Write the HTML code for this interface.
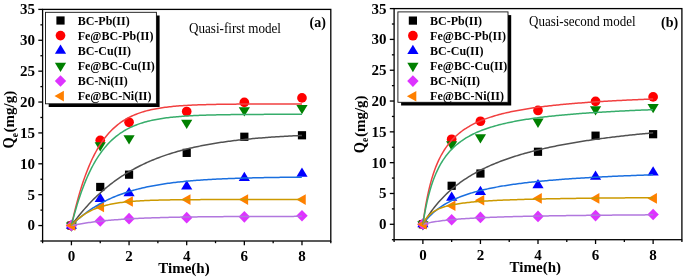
<!DOCTYPE html>
<html><head><meta charset="utf-8"><style>
html,body{margin:0;padding:0;background:#fff;overflow:hidden;}
svg{display:block;filter:blur(0.35px);}
</style></head><body>
<svg width="685" height="279" viewBox="0 0 685 279">
<rect width="685" height="279" fill="#fff"/>
<rect x="67.32" y="221.46" width="8.2" height="8.2" fill="#000000"/>
<rect x="96.14" y="182.86" width="8.2" height="8.2" fill="#000000"/>
<rect x="124.96" y="170.57" width="8.2" height="8.2" fill="#000000"/>
<rect x="182.60" y="148.77" width="8.2" height="8.2" fill="#000000"/>
<rect x="240.24" y="132.65" width="8.2" height="8.2" fill="#000000"/>
<rect x="297.88" y="131.17" width="8.2" height="8.2" fill="#000000"/>
<circle cx="71.42" cy="225.56" r="4.85" fill="#FF0000"/>
<circle cx="100.24" cy="140.33" r="4.85" fill="#FF0000"/>
<circle cx="129.06" cy="122.30" r="4.85" fill="#FF0000"/>
<circle cx="186.70" cy="111.49" r="4.85" fill="#FF0000"/>
<circle cx="244.34" cy="102.35" r="4.85" fill="#FF0000"/>
<circle cx="301.98" cy="97.90" r="4.85" fill="#FF0000"/>
<polygon points="65.82,228.63 77.02,228.63 71.42,219.43" fill="#0000FF"/>
<polygon points="94.64,201.95 105.84,201.95 100.24,192.75" fill="#0000FF"/>
<polygon points="123.46,196.26 134.66,196.26 129.06,187.06" fill="#0000FF"/>
<polygon points="181.10,189.41 192.30,189.41 186.70,180.21" fill="#0000FF"/>
<polygon points="238.74,180.95 249.94,180.95 244.34,171.75" fill="#0000FF"/>
<polygon points="296.38,176.69 307.58,176.69 301.98,167.49" fill="#0000FF"/>
<polygon points="65.82,222.46 77.02,222.46 71.42,231.76" fill="#008000"/>
<polygon points="94.64,142.23 105.84,142.23 100.24,151.53" fill="#008000"/>
<polygon points="123.46,135.25 134.66,135.25 129.06,144.55" fill="#008000"/>
<polygon points="181.10,119.63 192.30,119.63 186.70,128.93" fill="#008000"/>
<polygon points="238.74,107.28 249.94,107.28 244.34,116.58" fill="#008000"/>
<polygon points="296.38,105.05 307.58,105.05 301.98,114.35" fill="#008000"/>
<polygon points="71.42,219.76 77.12,225.56 71.42,231.36 65.72,225.56" fill="#DD33FF"/>
<polygon points="100.24,215.25 105.94,221.05 100.24,226.85 94.54,221.05" fill="#DD33FF"/>
<polygon points="129.06,212.84 134.76,218.64 129.06,224.44 123.36,218.64" fill="#DD33FF"/>
<polygon points="186.70,211.85 192.40,217.65 186.70,223.45 181.00,217.65" fill="#DD33FF"/>
<polygon points="244.34,211.05 250.04,216.85 244.34,222.65 238.64,216.85" fill="#DD33FF"/>
<polygon points="301.98,209.88 307.68,215.68 301.98,221.48 296.28,215.68" fill="#DD33FF"/>
<polygon points="65.82,225.56 75.22,220.26 75.22,230.86" fill="#FF8000"/>
<polygon points="94.64,207.03 104.04,201.73 104.04,212.33" fill="#FF8000"/>
<polygon points="123.46,201.47 132.86,196.17 132.86,206.77" fill="#FF8000"/>
<polygon points="181.10,199.62 190.50,194.32 190.50,204.92" fill="#FF8000"/>
<polygon points="238.74,199.62 248.14,194.32 248.14,204.92" fill="#FF8000"/>
<polygon points="296.38,199.62 305.78,194.32 305.78,204.92" fill="#FF8000"/>
<path d="M71.42,225.56 L72.86,223.57 L74.30,221.63 L75.74,219.73 L77.18,217.86 L78.62,216.04 L80.07,214.26 L81.51,212.51 L82.95,210.80 L84.39,209.13 L85.83,207.49 L87.27,205.89 L88.71,204.33 L90.15,202.79 L91.59,201.29 L93.03,199.82 L94.48,198.38 L95.92,196.98 L97.36,195.60 L98.80,194.25 L100.24,192.94 L101.68,191.64 L103.12,190.38 L104.56,189.15 L106.00,187.94 L107.44,186.75 L108.89,185.59 L110.33,184.46 L111.77,183.35 L113.21,182.26 L114.65,181.20 L116.09,180.16 L117.53,179.14 L118.97,178.15 L120.41,177.17 L121.85,176.22 L123.30,175.29 L124.74,174.37 L126.18,173.48 L127.62,172.60 L129.06,171.75 L130.50,170.91 L131.94,170.09 L133.38,169.29 L134.82,168.50 L136.26,167.73 L137.71,166.98 L139.15,166.24 L140.59,165.52 L142.03,164.82 L143.47,164.13 L144.91,163.45 L146.35,162.79 L147.79,162.14 L149.23,161.51 L150.68,160.89 L152.12,160.28 L153.56,159.69 L155.00,159.11 L156.44,158.54 L157.88,157.99 L159.32,157.44 L160.76,156.91 L162.20,156.39 L163.64,155.88 L165.08,155.38 L166.53,154.89 L167.97,154.41 L169.41,153.94 L170.85,153.48 L172.29,153.04 L173.73,152.60 L175.17,152.17 L176.61,151.75 L178.05,151.34 L179.50,150.93 L180.94,150.54 L182.38,150.16 L183.82,149.78 L185.26,149.41 L186.70,149.05 L188.14,148.69 L189.58,148.35 L191.02,148.01 L192.46,147.68 L193.91,147.35 L195.35,147.04 L196.79,146.73 L198.23,146.42 L199.67,146.12 L201.11,145.83 L202.55,145.55 L203.99,145.27 L205.43,145.00 L206.87,144.73 L208.31,144.47 L209.76,144.21 L211.20,143.96 L212.64,143.72 L214.08,143.48 L215.52,143.24 L216.96,143.01 L218.40,142.79 L219.84,142.57 L221.28,142.35 L222.72,142.14 L224.17,141.94 L225.61,141.73 L227.05,141.54 L228.49,141.34 L229.93,141.16 L231.37,140.97 L232.81,140.79 L234.25,140.61 L235.69,140.44 L237.13,140.27 L238.58,140.10 L240.02,139.94 L241.46,139.78 L242.90,139.63 L244.34,139.47 L245.78,139.32 L247.22,139.18 L248.66,139.03 L250.10,138.90 L251.54,138.76 L252.99,138.62 L254.43,138.49 L255.87,138.37 L257.31,138.24 L258.75,138.12 L260.19,138.00 L261.63,137.88 L263.07,137.76 L264.51,137.65 L265.95,137.54 L267.40,137.43 L268.84,137.33 L270.28,137.22 L271.72,137.12 L273.16,137.02 L274.60,136.93 L276.04,136.83 L277.48,136.74 L278.92,136.65 L280.37,136.56 L281.81,136.47 L283.25,136.39 L284.69,136.30 L286.13,136.22 L287.57,136.14 L289.01,136.07 L290.45,135.99 L291.89,135.91 L293.33,135.84 L294.78,135.77 L296.22,135.70 L297.66,135.63 L299.10,135.56 L300.54,135.50 L301.98,135.43" fill="none" stroke="#515151" stroke-width="1.5"/>
<path d="M71.42,225.56 L72.86,219.06 L74.30,212.91 L75.74,207.08 L77.18,201.57 L78.62,196.35 L80.07,191.41 L81.51,186.74 L82.95,182.31 L84.39,178.12 L85.83,174.16 L87.27,170.41 L88.71,166.85 L90.15,163.49 L91.59,160.31 L93.03,157.29 L94.48,154.44 L95.92,151.74 L97.36,149.18 L98.80,146.76 L100.24,144.47 L101.68,142.31 L103.12,140.25 L104.56,138.31 L106.00,136.47 L107.44,134.73 L108.89,133.08 L110.33,131.53 L111.77,130.05 L113.21,128.65 L114.65,127.33 L116.09,126.08 L117.53,124.89 L118.97,123.77 L120.41,122.71 L121.85,121.70 L123.30,120.75 L124.74,119.85 L126.18,119.00 L127.62,118.19 L129.06,117.43 L130.50,116.70 L131.94,116.02 L133.38,115.37 L134.82,114.76 L136.26,114.18 L137.71,113.63 L139.15,113.11 L140.59,112.62 L142.03,112.15 L143.47,111.71 L144.91,111.29 L146.35,110.90 L147.79,110.52 L149.23,110.17 L150.68,109.83 L152.12,109.52 L153.56,109.22 L155.00,108.93 L156.44,108.66 L157.88,108.41 L159.32,108.17 L160.76,107.94 L162.20,107.72 L163.64,107.52 L165.08,107.32 L166.53,107.14 L167.97,106.97 L169.41,106.80 L170.85,106.65 L172.29,106.50 L173.73,106.36 L175.17,106.23 L176.61,106.10 L178.05,105.99 L179.50,105.87 L180.94,105.77 L182.38,105.67 L183.82,105.57 L185.26,105.48 L186.70,105.40 L188.14,105.32 L189.58,105.24 L191.02,105.17 L192.46,105.10 L193.91,105.04 L195.35,104.98 L196.79,104.92 L198.23,104.86 L199.67,104.81 L201.11,104.76 L202.55,104.72 L203.99,104.67 L205.43,104.63 L206.87,104.59 L208.31,104.55 L209.76,104.52 L211.20,104.48 L212.64,104.45 L214.08,104.42 L215.52,104.40 L216.96,104.37 L218.40,104.34 L219.84,104.32 L221.28,104.30 L222.72,104.27 L224.17,104.25 L225.61,104.23 L227.05,104.22 L228.49,104.20 L229.93,104.18 L231.37,104.17 L232.81,104.15 L234.25,104.14 L235.69,104.13 L237.13,104.11 L238.58,104.10 L240.02,104.09 L241.46,104.08 L242.90,104.07 L244.34,104.06 L245.78,104.05 L247.22,104.04 L248.66,104.03 L250.10,104.03 L251.54,104.02 L252.99,104.01 L254.43,104.01 L255.87,104.00 L257.31,104.00 L258.75,103.99 L260.19,103.98 L261.63,103.98 L263.07,103.97 L264.51,103.97 L265.95,103.97 L267.40,103.96 L268.84,103.96 L270.28,103.96 L271.72,103.95 L273.16,103.95 L274.60,103.95 L276.04,103.94 L277.48,103.94 L278.92,103.94 L280.37,103.94 L281.81,103.93 L283.25,103.93 L284.69,103.93 L286.13,103.93 L287.57,103.93 L289.01,103.92 L290.45,103.92 L291.89,103.92 L293.33,103.92 L294.78,103.92 L296.22,103.92 L297.66,103.91 L299.10,103.91 L300.54,103.91 L301.98,103.91" fill="none" stroke="#F14040" stroke-width="1.5"/>
<path d="M71.42,225.56 L72.86,224.13 L74.30,222.74 L75.74,221.38 L77.18,220.07 L78.62,218.80 L80.07,217.57 L81.51,216.37 L82.95,215.20 L84.39,214.07 L85.83,212.98 L87.27,211.91 L88.71,210.88 L90.15,209.88 L91.59,208.91 L93.03,207.96 L94.48,207.04 L95.92,206.15 L97.36,205.29 L98.80,204.45 L100.24,203.64 L101.68,202.85 L103.12,202.08 L104.56,201.34 L106.00,200.61 L107.44,199.91 L108.89,199.23 L110.33,198.57 L111.77,197.93 L113.21,197.31 L114.65,196.70 L116.09,196.11 L117.53,195.55 L118.97,194.99 L120.41,194.46 L121.85,193.94 L123.30,193.43 L124.74,192.94 L126.18,192.46 L127.62,192.00 L129.06,191.55 L130.50,191.12 L131.94,190.69 L133.38,190.28 L134.82,189.88 L136.26,189.50 L137.71,189.12 L139.15,188.76 L140.59,188.41 L142.03,188.06 L143.47,187.73 L144.91,187.41 L146.35,187.09 L147.79,186.79 L149.23,186.49 L150.68,186.20 L152.12,185.93 L153.56,185.66 L155.00,185.39 L156.44,185.14 L157.88,184.89 L159.32,184.65 L160.76,184.42 L162.20,184.19 L163.64,183.97 L165.08,183.76 L166.53,183.55 L167.97,183.35 L169.41,183.16 L170.85,182.97 L172.29,182.78 L173.73,182.60 L175.17,182.43 L176.61,182.26 L178.05,182.10 L179.50,181.94 L180.94,181.79 L182.38,181.64 L183.82,181.50 L185.26,181.35 L186.70,181.22 L188.14,181.09 L189.58,180.96 L191.02,180.83 L192.46,180.71 L193.91,180.59 L195.35,180.48 L196.79,180.37 L198.23,180.26 L199.67,180.16 L201.11,180.06 L202.55,179.96 L203.99,179.86 L205.43,179.77 L206.87,179.68 L208.31,179.59 L209.76,179.51 L211.20,179.43 L212.64,179.35 L214.08,179.27 L215.52,179.19 L216.96,179.12 L218.40,179.05 L219.84,178.98 L221.28,178.91 L222.72,178.85 L224.17,178.79 L225.61,178.73 L227.05,178.67 L228.49,178.61 L229.93,178.55 L231.37,178.50 L232.81,178.45 L234.25,178.40 L235.69,178.35 L237.13,178.30 L238.58,178.25 L240.02,178.21 L241.46,178.16 L242.90,178.12 L244.34,178.08 L245.78,178.04 L247.22,178.00 L248.66,177.96 L250.10,177.92 L251.54,177.89 L252.99,177.85 L254.43,177.82 L255.87,177.79 L257.31,177.76 L258.75,177.73 L260.19,177.70 L261.63,177.67 L263.07,177.64 L264.51,177.61 L265.95,177.58 L267.40,177.56 L268.84,177.53 L270.28,177.51 L271.72,177.49 L273.16,177.46 L274.60,177.44 L276.04,177.42 L277.48,177.40 L278.92,177.38 L280.37,177.36 L281.81,177.34 L283.25,177.32 L284.69,177.30 L286.13,177.29 L287.57,177.27 L289.01,177.25 L290.45,177.24 L291.89,177.22 L293.33,177.21 L294.78,177.19 L296.22,177.18 L297.66,177.16 L299.10,177.15 L300.54,177.14 L301.98,177.12" fill="none" stroke="#1A6FDF" stroke-width="1.5"/>
<path d="M71.42,225.56 L72.86,219.91 L74.30,214.56 L75.74,209.47 L77.18,204.64 L78.62,200.05 L80.07,195.70 L81.51,191.57 L82.95,187.65 L84.39,183.93 L85.83,180.39 L87.27,177.04 L88.71,173.86 L90.15,170.83 L91.59,167.96 L93.03,165.24 L94.48,162.65 L95.92,160.20 L97.36,157.87 L98.80,155.66 L100.24,153.56 L101.68,151.56 L103.12,149.67 L104.56,147.88 L106.00,146.17 L107.44,144.55 L108.89,143.02 L110.33,141.56 L111.77,140.17 L113.21,138.86 L114.65,137.61 L116.09,136.43 L117.53,135.30 L118.97,134.24 L120.41,133.22 L121.85,132.26 L123.30,131.35 L124.74,130.48 L126.18,129.66 L127.62,128.88 L129.06,128.14 L130.50,127.44 L131.94,126.77 L133.38,126.13 L134.82,125.53 L136.26,124.96 L137.71,124.42 L139.15,123.90 L140.59,123.41 L142.03,122.95 L143.47,122.51 L144.91,122.09 L146.35,121.69 L147.79,121.32 L149.23,120.96 L150.68,120.62 L152.12,120.30 L153.56,119.99 L155.00,119.70 L156.44,119.43 L157.88,119.17 L159.32,118.92 L160.76,118.68 L162.20,118.46 L163.64,118.24 L165.08,118.04 L166.53,117.85 L167.97,117.67 L169.41,117.50 L170.85,117.33 L172.29,117.18 L173.73,117.03 L175.17,116.89 L176.61,116.76 L178.05,116.63 L179.50,116.51 L180.94,116.40 L182.38,116.29 L183.82,116.19 L185.26,116.09 L186.70,116.00 L188.14,115.91 L189.58,115.83 L191.02,115.75 L192.46,115.67 L193.91,115.60 L195.35,115.53 L196.79,115.47 L198.23,115.41 L199.67,115.35 L201.11,115.30 L202.55,115.24 L203.99,115.19 L205.43,115.15 L206.87,115.10 L208.31,115.06 L209.76,115.02 L211.20,114.98 L212.64,114.95 L214.08,114.91 L215.52,114.88 L216.96,114.85 L218.40,114.82 L219.84,114.79 L221.28,114.76 L222.72,114.74 L224.17,114.72 L225.61,114.69 L227.05,114.67 L228.49,114.65 L229.93,114.63 L231.37,114.61 L232.81,114.60 L234.25,114.58 L235.69,114.56 L237.13,114.55 L238.58,114.53 L240.02,114.52 L241.46,114.51 L242.90,114.50 L244.34,114.48 L245.78,114.47 L247.22,114.46 L248.66,114.45 L250.10,114.44 L251.54,114.43 L252.99,114.43 L254.43,114.42 L255.87,114.41 L257.31,114.40 L258.75,114.40 L260.19,114.39 L261.63,114.38 L263.07,114.38 L264.51,114.37 L265.95,114.37 L267.40,114.36 L268.84,114.36 L270.28,114.35 L271.72,114.35 L273.16,114.34 L274.60,114.34 L276.04,114.34 L277.48,114.33 L278.92,114.33 L280.37,114.33 L281.81,114.32 L283.25,114.32 L284.69,114.32 L286.13,114.32 L287.57,114.31 L289.01,114.31 L290.45,114.31 L291.89,114.31 L293.33,114.31 L294.78,114.30 L296.22,114.30 L297.66,114.30 L299.10,114.30 L300.54,114.30 L301.98,114.30" fill="none" stroke="#37AD6B" stroke-width="1.5"/>
<path d="M71.42,225.56 L72.86,225.27 L74.30,224.99 L75.74,224.71 L77.18,224.45 L78.62,224.19 L80.07,223.95 L81.51,223.71 L82.95,223.47 L84.39,223.25 L85.83,223.03 L87.27,222.82 L88.71,222.61 L90.15,222.42 L91.59,222.22 L93.03,222.04 L94.48,221.86 L95.92,221.68 L97.36,221.51 L98.80,221.35 L100.24,221.19 L101.68,221.04 L103.12,220.89 L104.56,220.75 L106.00,220.61 L107.44,220.47 L108.89,220.34 L110.33,220.21 L111.77,220.09 L113.21,219.97 L114.65,219.86 L116.09,219.74 L117.53,219.64 L118.97,219.53 L120.41,219.43 L121.85,219.33 L123.30,219.24 L124.74,219.15 L126.18,219.06 L127.62,218.97 L129.06,218.89 L130.50,218.80 L131.94,218.73 L133.38,218.65 L134.82,218.58 L136.26,218.51 L137.71,218.44 L139.15,218.37 L140.59,218.30 L142.03,218.24 L143.47,218.18 L144.91,218.12 L146.35,218.06 L147.79,218.01 L149.23,217.96 L150.68,217.90 L152.12,217.85 L153.56,217.81 L155.00,217.76 L156.44,217.71 L157.88,217.67 L159.32,217.63 L160.76,217.58 L162.20,217.54 L163.64,217.51 L165.08,217.47 L166.53,217.43 L167.97,217.40 L169.41,217.36 L170.85,217.33 L172.29,217.30 L173.73,217.27 L175.17,217.24 L176.61,217.21 L178.05,217.18 L179.50,217.15 L180.94,217.12 L182.38,217.10 L183.82,217.07 L185.26,217.05 L186.70,217.03 L188.14,217.00 L189.58,216.98 L191.02,216.96 L192.46,216.94 L193.91,216.92 L195.35,216.90 L196.79,216.88 L198.23,216.86 L199.67,216.85 L201.11,216.83 L202.55,216.81 L203.99,216.80 L205.43,216.78 L206.87,216.77 L208.31,216.75 L209.76,216.74 L211.20,216.73 L212.64,216.71 L214.08,216.70 L215.52,216.69 L216.96,216.68 L218.40,216.66 L219.84,216.65 L221.28,216.64 L222.72,216.63 L224.17,216.62 L225.61,216.61 L227.05,216.60 L228.49,216.59 L229.93,216.58 L231.37,216.58 L232.81,216.57 L234.25,216.56 L235.69,216.55 L237.13,216.54 L238.58,216.54 L240.02,216.53 L241.46,216.52 L242.90,216.51 L244.34,216.51 L245.78,216.50 L247.22,216.50 L248.66,216.49 L250.10,216.48 L251.54,216.48 L252.99,216.47 L254.43,216.47 L255.87,216.46 L257.31,216.46 L258.75,216.45 L260.19,216.45 L261.63,216.44 L263.07,216.44 L264.51,216.44 L265.95,216.43 L267.40,216.43 L268.84,216.42 L270.28,216.42 L271.72,216.42 L273.16,216.41 L274.60,216.41 L276.04,216.41 L277.48,216.40 L278.92,216.40 L280.37,216.40 L281.81,216.40 L283.25,216.39 L284.69,216.39 L286.13,216.39 L287.57,216.39 L289.01,216.38 L290.45,216.38 L291.89,216.38 L293.33,216.38 L294.78,216.37 L296.22,216.37 L297.66,216.37 L299.10,216.37 L300.54,216.37 L301.98,216.36" fill="none" stroke="#B177DE" stroke-width="1.5"/>
<path d="M71.42,225.56 L72.86,223.97 L74.30,222.48 L75.74,221.08 L77.18,219.77 L78.62,218.54 L80.07,217.38 L81.51,216.29 L82.95,215.27 L84.39,214.31 L85.83,213.41 L87.27,212.56 L88.71,211.77 L90.15,211.02 L91.59,210.32 L93.03,209.67 L94.48,209.05 L95.92,208.47 L97.36,207.92 L98.80,207.41 L100.24,206.93 L101.68,206.48 L103.12,206.06 L104.56,205.66 L106.00,205.29 L107.44,204.94 L108.89,204.61 L110.33,204.30 L111.77,204.01 L113.21,203.73 L114.65,203.48 L116.09,203.24 L117.53,203.01 L118.97,202.80 L120.41,202.60 L121.85,202.41 L123.30,202.24 L124.74,202.07 L126.18,201.92 L127.62,201.77 L129.06,201.64 L130.50,201.51 L131.94,201.39 L133.38,201.28 L134.82,201.17 L136.26,201.07 L137.71,200.98 L139.15,200.89 L140.59,200.81 L142.03,200.73 L143.47,200.66 L144.91,200.59 L146.35,200.52 L147.79,200.46 L149.23,200.41 L150.68,200.35 L152.12,200.30 L153.56,200.26 L155.00,200.21 L156.44,200.17 L157.88,200.13 L159.32,200.10 L160.76,200.06 L162.20,200.03 L163.64,200.00 L165.08,199.97 L166.53,199.94 L167.97,199.92 L169.41,199.90 L170.85,199.87 L172.29,199.85 L173.73,199.83 L175.17,199.82 L176.61,199.80 L178.05,199.78 L179.50,199.77 L180.94,199.75 L182.38,199.74 L183.82,199.73 L185.26,199.72 L186.70,199.70 L188.14,199.69 L189.58,199.68 L191.02,199.67 L192.46,199.67 L193.91,199.66 L195.35,199.65 L196.79,199.64 L198.23,199.64 L199.67,199.63 L201.11,199.62 L202.55,199.62 L203.99,199.61 L205.43,199.61 L206.87,199.60 L208.31,199.60 L209.76,199.60 L211.20,199.59 L212.64,199.59 L214.08,199.59 L215.52,199.58 L216.96,199.58 L218.40,199.58 L219.84,199.57 L221.28,199.57 L222.72,199.57 L224.17,199.57 L225.61,199.57 L227.05,199.56 L228.49,199.56 L229.93,199.56 L231.37,199.56 L232.81,199.56 L234.25,199.56 L235.69,199.55 L237.13,199.55 L238.58,199.55 L240.02,199.55 L241.46,199.55 L242.90,199.55 L244.34,199.55 L245.78,199.55 L247.22,199.55 L248.66,199.55 L250.10,199.55 L251.54,199.54 L252.99,199.54 L254.43,199.54 L255.87,199.54 L257.31,199.54 L258.75,199.54 L260.19,199.54 L261.63,199.54 L263.07,199.54 L264.51,199.54 L265.95,199.54 L267.40,199.54 L268.84,199.54 L270.28,199.54 L271.72,199.54 L273.16,199.54 L274.60,199.54 L276.04,199.54 L277.48,199.54 L278.92,199.54 L280.37,199.54 L281.81,199.54 L283.25,199.54 L284.69,199.54 L286.13,199.54 L287.57,199.54 L289.01,199.54 L290.45,199.54 L291.89,199.54 L293.33,199.54 L294.78,199.54 L296.22,199.54 L297.66,199.54 L299.10,199.54 L300.54,199.54 L301.98,199.54" fill="none" stroke="#CC9900" stroke-width="1.5"/>
<rect x="42.6" y="9.4" width="288.20" height="231.60" fill="none" stroke="#000" stroke-width="1.3"/>
<line x1="40.40" y1="241.00" x2="42.6" y2="241.00" stroke="#000" stroke-width="1.3"/>
<line x1="38.30" y1="225.56" x2="42.6" y2="225.56" stroke="#000" stroke-width="1.3"/>
<text x="35.00" y="230.46" text-anchor="end" font-family="Liberation Serif" font-weight="bold" font-size="15">0</text>
<line x1="40.40" y1="210.12" x2="42.6" y2="210.12" stroke="#000" stroke-width="1.3"/>
<line x1="38.30" y1="194.68" x2="42.6" y2="194.68" stroke="#000" stroke-width="1.3"/>
<text x="35.00" y="199.58" text-anchor="end" font-family="Liberation Serif" font-weight="bold" font-size="15">5</text>
<line x1="40.40" y1="179.24" x2="42.6" y2="179.24" stroke="#000" stroke-width="1.3"/>
<line x1="38.30" y1="163.80" x2="42.6" y2="163.80" stroke="#000" stroke-width="1.3"/>
<text x="35.00" y="168.70" text-anchor="end" font-family="Liberation Serif" font-weight="bold" font-size="15">10</text>
<line x1="40.40" y1="148.36" x2="42.6" y2="148.36" stroke="#000" stroke-width="1.3"/>
<line x1="38.30" y1="132.92" x2="42.6" y2="132.92" stroke="#000" stroke-width="1.3"/>
<text x="35.00" y="137.82" text-anchor="end" font-family="Liberation Serif" font-weight="bold" font-size="15">15</text>
<line x1="40.40" y1="117.48" x2="42.6" y2="117.48" stroke="#000" stroke-width="1.3"/>
<line x1="38.30" y1="102.04" x2="42.6" y2="102.04" stroke="#000" stroke-width="1.3"/>
<text x="35.00" y="106.94" text-anchor="end" font-family="Liberation Serif" font-weight="bold" font-size="15">20</text>
<line x1="40.40" y1="86.60" x2="42.6" y2="86.60" stroke="#000" stroke-width="1.3"/>
<line x1="38.30" y1="71.16" x2="42.6" y2="71.16" stroke="#000" stroke-width="1.3"/>
<text x="35.00" y="76.06" text-anchor="end" font-family="Liberation Serif" font-weight="bold" font-size="15">25</text>
<line x1="40.40" y1="55.72" x2="42.6" y2="55.72" stroke="#000" stroke-width="1.3"/>
<line x1="38.30" y1="40.28" x2="42.6" y2="40.28" stroke="#000" stroke-width="1.3"/>
<text x="35.00" y="45.18" text-anchor="end" font-family="Liberation Serif" font-weight="bold" font-size="15">30</text>
<line x1="40.40" y1="24.84" x2="42.6" y2="24.84" stroke="#000" stroke-width="1.3"/>
<line x1="38.30" y1="9.40" x2="42.6" y2="9.40" stroke="#000" stroke-width="1.3"/>
<text x="35.00" y="14.30" text-anchor="end" font-family="Liberation Serif" font-weight="bold" font-size="15">35</text>
<line x1="42.60" y1="241.0" x2="42.60" y2="243.20" stroke="#000" stroke-width="1.3"/>
<line x1="71.42" y1="241.0" x2="71.42" y2="245.30" stroke="#000" stroke-width="1.3"/>
<text x="71.42" y="261.20" text-anchor="middle" font-family="Liberation Serif" font-weight="bold" font-size="15">0</text>
<line x1="100.24" y1="241.0" x2="100.24" y2="243.20" stroke="#000" stroke-width="1.3"/>
<line x1="129.06" y1="241.0" x2="129.06" y2="245.30" stroke="#000" stroke-width="1.3"/>
<text x="129.06" y="261.20" text-anchor="middle" font-family="Liberation Serif" font-weight="bold" font-size="15">2</text>
<line x1="157.88" y1="241.0" x2="157.88" y2="243.20" stroke="#000" stroke-width="1.3"/>
<line x1="186.70" y1="241.0" x2="186.70" y2="245.30" stroke="#000" stroke-width="1.3"/>
<text x="186.70" y="261.20" text-anchor="middle" font-family="Liberation Serif" font-weight="bold" font-size="15">4</text>
<line x1="215.52" y1="241.0" x2="215.52" y2="243.20" stroke="#000" stroke-width="1.3"/>
<line x1="244.34" y1="241.0" x2="244.34" y2="245.30" stroke="#000" stroke-width="1.3"/>
<text x="244.34" y="261.20" text-anchor="middle" font-family="Liberation Serif" font-weight="bold" font-size="15">6</text>
<line x1="273.16" y1="241.0" x2="273.16" y2="243.20" stroke="#000" stroke-width="1.3"/>
<line x1="301.98" y1="241.0" x2="301.98" y2="245.30" stroke="#000" stroke-width="1.3"/>
<text x="301.98" y="261.20" text-anchor="middle" font-family="Liberation Serif" font-weight="bold" font-size="15">8</text>
<line x1="330.80" y1="241.0" x2="330.80" y2="243.20" stroke="#000" stroke-width="1.3"/>
<text x="184.0" y="272.8" text-anchor="middle" font-family="Liberation Serif" font-weight="bold" font-size="15">Time(h)</text>
<text transform="translate(14.20,148.50) rotate(-90) scale(0.88,1)" font-family="Liberation Serif" font-weight="bold" font-size="16.4">Q</text>
<text transform="translate(17.60,137.30) rotate(-90)" font-family="Liberation Serif" font-weight="bold" font-size="9.5">e</text>
<text transform="translate(14.00,132.40) rotate(-90)" font-family="Liberation Serif" font-weight="bold" font-size="15">(mg/g)</text>
<rect x="48.70" y="15.50" width="110.9" height="91.5" fill="#000"/>
<rect x="45.5" y="12.3" width="110.9" height="91.5" fill="#fff" stroke="#111" stroke-width="0.9"/>
<rect x="56.40" y="16.40" width="8.2" height="8.2" fill="#000000"/>
<text x="77.70" y="24.70" font-family="Liberation Serif" font-weight="bold" font-size="12">BC-Pb(II)</text>
<circle cx="60.50" cy="35.62" r="4.85" fill="#FF0000"/>
<text x="77.70" y="39.82" font-family="Liberation Serif" font-weight="bold" font-size="12">Fe@BC-Pb(II)</text>
<polygon points="54.90,53.81 66.10,53.81 60.50,44.61" fill="#0000FF"/>
<text x="77.70" y="54.94" font-family="Liberation Serif" font-weight="bold" font-size="12">BC-Cu(II)</text>
<polygon points="54.90,62.76 66.10,62.76 60.50,72.06" fill="#008000"/>
<text x="77.70" y="70.06" font-family="Liberation Serif" font-weight="bold" font-size="12">Fe@BC-Cu(II)</text>
<polygon points="60.50,75.18 66.20,80.98 60.50,86.78 54.80,80.98" fill="#DD33FF"/>
<text x="77.70" y="85.18" font-family="Liberation Serif" font-weight="bold" font-size="12">BC-Ni(II)</text>
<polygon points="54.50,96.10 63.90,90.80 63.90,101.40" fill="#FF8000"/>
<text x="77.70" y="100.30" font-family="Liberation Serif" font-weight="bold" font-size="12">Fe@BC-Ni(II)</text>
<text x="189" y="32.5" font-family="Liberation Serif" font-size="14" textLength="92.0" lengthAdjust="spacingAndGlyphs">Quasi-first model</text>
<text x="309.6" y="26.9" font-family="Liberation Serif" font-weight="bold" font-size="14">(a)</text>
<rect x="418.78" y="220.19" width="8.2" height="8.2" fill="#000000"/>
<rect x="447.56" y="181.68" width="8.2" height="8.2" fill="#000000"/>
<rect x="476.34" y="169.41" width="8.2" height="8.2" fill="#000000"/>
<rect x="533.90" y="147.66" width="8.2" height="8.2" fill="#000000"/>
<rect x="591.46" y="131.57" width="8.2" height="8.2" fill="#000000"/>
<rect x="649.02" y="130.10" width="8.2" height="8.2" fill="#000000"/>
<circle cx="422.88" cy="224.29" r="4.85" fill="#FF0000"/>
<circle cx="451.66" cy="139.25" r="4.85" fill="#FF0000"/>
<circle cx="480.44" cy="121.25" r="4.85" fill="#FF0000"/>
<circle cx="538.00" cy="110.47" r="4.85" fill="#FF0000"/>
<circle cx="595.56" cy="101.35" r="4.85" fill="#FF0000"/>
<circle cx="653.12" cy="96.91" r="4.85" fill="#FF0000"/>
<polygon points="417.28,227.36 428.48,227.36 422.88,218.16" fill="#0000FF"/>
<polygon points="446.06,200.74 457.26,200.74 451.66,191.54" fill="#0000FF"/>
<polygon points="474.84,195.07 486.04,195.07 480.44,185.87" fill="#0000FF"/>
<polygon points="532.40,188.23 543.60,188.23 538.00,179.03" fill="#0000FF"/>
<polygon points="589.96,179.78 601.16,179.78 595.56,170.58" fill="#0000FF"/>
<polygon points="647.52,175.53 658.72,175.53 653.12,166.33" fill="#0000FF"/>
<polygon points="417.28,221.19 428.48,221.19 422.88,230.49" fill="#008000"/>
<polygon points="446.06,141.14 457.26,141.14 451.66,150.44" fill="#008000"/>
<polygon points="474.84,134.18 486.04,134.18 480.44,143.48" fill="#008000"/>
<polygon points="532.40,118.58 543.60,118.58 538.00,127.88" fill="#008000"/>
<polygon points="589.96,106.26 601.16,106.26 595.56,115.56" fill="#008000"/>
<polygon points="647.52,104.04 658.72,104.04 653.12,113.34" fill="#008000"/>
<polygon points="422.88,218.49 428.58,224.29 422.88,230.09 417.18,224.29" fill="#DD33FF"/>
<polygon points="451.66,213.99 457.36,219.79 451.66,225.59 445.96,219.79" fill="#DD33FF"/>
<polygon points="480.44,211.59 486.14,217.39 480.44,223.19 474.74,217.39" fill="#DD33FF"/>
<polygon points="538.00,210.61 543.70,216.41 538.00,222.21 532.30,216.41" fill="#DD33FF"/>
<polygon points="595.56,209.80 601.26,215.60 595.56,221.40 589.86,215.60" fill="#DD33FF"/>
<polygon points="653.12,208.63 658.82,214.43 653.12,220.23 647.42,214.43" fill="#DD33FF"/>
<polygon points="417.28,224.29 426.68,218.99 426.68,229.59" fill="#FF8000"/>
<polygon points="446.06,205.81 455.46,200.51 455.46,211.11" fill="#FF8000"/>
<polygon points="474.84,200.26 484.24,194.96 484.24,205.56" fill="#FF8000"/>
<polygon points="532.40,198.41 541.80,193.11 541.80,203.71" fill="#FF8000"/>
<polygon points="589.96,198.41 599.36,193.11 599.36,203.71" fill="#FF8000"/>
<polygon points="647.52,198.41 656.92,193.11 656.92,203.71" fill="#FF8000"/>
<path d="M422.88,224.29 L424.32,221.86 L425.76,219.53 L427.20,217.29 L428.64,215.13 L430.08,213.06 L431.51,211.06 L432.95,209.14 L434.39,207.28 L435.83,205.49 L437.27,203.76 L438.71,202.09 L440.15,200.48 L441.59,198.92 L443.03,197.41 L444.47,195.95 L445.90,194.53 L447.34,193.16 L448.78,191.82 L450.22,190.53 L451.66,189.28 L453.10,188.06 L454.54,186.88 L455.98,185.73 L457.42,184.62 L458.86,183.53 L460.29,182.47 L461.73,181.45 L463.17,180.44 L464.61,179.47 L466.05,178.52 L467.49,177.59 L468.93,176.69 L470.37,175.81 L471.81,174.95 L473.25,174.11 L474.68,173.29 L476.12,172.49 L477.56,171.71 L479.00,170.95 L480.44,170.21 L481.88,169.48 L483.32,168.77 L484.76,168.07 L486.20,167.39 L487.63,166.72 L489.07,166.07 L490.51,165.43 L491.95,164.80 L493.39,164.19 L494.83,163.59 L496.27,163.00 L497.71,162.43 L499.15,161.86 L500.59,161.31 L502.02,160.77 L503.46,160.24 L504.90,159.71 L506.34,159.20 L507.78,158.70 L509.22,158.20 L510.66,157.72 L512.10,157.24 L513.54,156.78 L514.98,156.32 L516.41,155.87 L517.85,155.43 L519.29,154.99 L520.73,154.56 L522.17,154.14 L523.61,153.73 L525.05,153.33 L526.49,152.93 L527.93,152.53 L529.37,152.15 L530.81,151.77 L532.24,151.39 L533.68,151.03 L535.12,150.66 L536.56,150.31 L538.00,149.96 L539.44,149.61 L540.88,149.27 L542.32,148.94 L543.76,148.61 L545.19,148.28 L546.63,147.96 L548.07,147.65 L549.51,147.34 L550.95,147.03 L552.39,146.73 L553.83,146.43 L555.27,146.14 L556.71,145.85 L558.15,145.57 L559.59,145.29 L561.02,145.01 L562.46,144.74 L563.90,144.47 L565.34,144.20 L566.78,143.94 L568.22,143.68 L569.66,143.43 L571.10,143.18 L572.54,142.93 L573.98,142.68 L575.41,142.44 L576.85,142.20 L578.29,141.97 L579.73,141.73 L581.17,141.51 L582.61,141.28 L584.05,141.05 L585.49,140.83 L586.93,140.61 L588.37,140.40 L589.80,140.19 L591.24,139.98 L592.68,139.77 L594.12,139.56 L595.56,139.36 L597.00,139.16 L598.44,138.96 L599.88,138.76 L601.32,138.57 L602.75,138.38 L604.19,138.19 L605.63,138.00 L607.07,137.82 L608.51,137.63 L609.95,137.45 L611.39,137.28 L612.83,137.10 L614.27,136.92 L615.71,136.75 L617.14,136.58 L618.58,136.41 L620.02,136.24 L621.46,136.08 L622.90,135.91 L624.34,135.75 L625.78,135.59 L627.22,135.43 L628.66,135.28 L630.10,135.12 L631.53,134.97 L632.97,134.82 L634.41,134.66 L635.85,134.52 L637.29,134.37 L638.73,134.22 L640.17,134.08 L641.61,133.93 L643.05,133.79 L644.49,133.65 L645.92,133.51 L647.36,133.38 L648.80,133.24 L650.24,133.10 L651.68,132.97 L653.12,132.84" fill="none" stroke="#515151" stroke-width="1.5"/>
<path d="M422.88,224.29 L424.32,214.01 L425.76,205.19 L427.20,197.54 L428.64,190.83 L430.08,184.91 L431.51,179.65 L432.95,174.93 L434.39,170.68 L435.83,166.84 L437.27,163.34 L438.71,160.15 L440.15,157.22 L441.59,154.52 L443.03,152.03 L444.47,149.73 L445.90,147.59 L447.34,145.59 L448.78,143.73 L450.22,141.99 L451.66,140.35 L453.10,138.82 L454.54,137.37 L455.98,136.01 L457.42,134.72 L458.86,133.50 L460.29,132.35 L461.73,131.25 L463.17,130.21 L464.61,129.22 L466.05,128.28 L467.49,127.38 L468.93,126.52 L470.37,125.70 L471.81,124.92 L473.25,124.17 L474.68,123.45 L476.12,122.76 L477.56,122.09 L479.00,121.46 L480.44,120.84 L481.88,120.25 L483.32,119.68 L484.76,119.14 L486.20,118.61 L487.63,118.10 L489.07,117.61 L490.51,117.13 L491.95,116.67 L493.39,116.23 L494.83,115.80 L496.27,115.38 L497.71,114.98 L499.15,114.59 L500.59,114.21 L502.02,113.84 L503.46,113.48 L504.90,113.14 L506.34,112.80 L507.78,112.47 L509.22,112.15 L510.66,111.84 L512.10,111.54 L513.54,111.25 L514.98,110.96 L516.41,110.69 L517.85,110.42 L519.29,110.15 L520.73,109.89 L522.17,109.64 L523.61,109.40 L525.05,109.16 L526.49,108.92 L527.93,108.70 L529.37,108.47 L530.81,108.26 L532.24,108.04 L533.68,107.84 L535.12,107.63 L536.56,107.43 L538.00,107.24 L539.44,107.05 L540.88,106.86 L542.32,106.68 L543.76,106.50 L545.19,106.33 L546.63,106.15 L548.07,105.99 L549.51,105.82 L550.95,105.66 L552.39,105.50 L553.83,105.35 L555.27,105.20 L556.71,105.05 L558.15,104.90 L559.59,104.76 L561.02,104.62 L562.46,104.48 L563.90,104.34 L565.34,104.21 L566.78,104.08 L568.22,103.95 L569.66,103.82 L571.10,103.70 L572.54,103.58 L573.98,103.46 L575.41,103.34 L576.85,103.22 L578.29,103.11 L579.73,102.99 L581.17,102.88 L582.61,102.78 L584.05,102.67 L585.49,102.56 L586.93,102.46 L588.37,102.36 L589.80,102.26 L591.24,102.16 L592.68,102.06 L594.12,101.97 L595.56,101.87 L597.00,101.78 L598.44,101.69 L599.88,101.60 L601.32,101.51 L602.75,101.42 L604.19,101.34 L605.63,101.25 L607.07,101.17 L608.51,101.08 L609.95,101.00 L611.39,100.92 L612.83,100.84 L614.27,100.77 L615.71,100.69 L617.14,100.61 L618.58,100.54 L620.02,100.46 L621.46,100.39 L622.90,100.32 L624.34,100.25 L625.78,100.18 L627.22,100.11 L628.66,100.04 L630.10,99.97 L631.53,99.91 L632.97,99.84 L634.41,99.78 L635.85,99.71 L637.29,99.65 L638.73,99.59 L640.17,99.52 L641.61,99.46 L643.05,99.40 L644.49,99.34 L645.92,99.28 L647.36,99.23 L648.80,99.17 L650.24,99.11 L651.68,99.06 L653.12,99.00" fill="none" stroke="#F14040" stroke-width="1.5"/>
<path d="M422.88,224.29 L424.32,222.37 L425.76,220.56 L427.20,218.87 L428.64,217.28 L430.08,215.78 L431.51,214.37 L432.95,213.03 L434.39,211.76 L435.83,210.56 L437.27,209.43 L438.71,208.34 L440.15,207.31 L441.59,206.33 L443.03,205.40 L444.47,204.50 L445.90,203.65 L447.34,202.83 L448.78,202.05 L450.22,201.30 L451.66,200.58 L453.10,199.88 L454.54,199.22 L455.98,198.58 L457.42,197.96 L458.86,197.37 L460.29,196.80 L461.73,196.25 L463.17,195.72 L464.61,195.20 L466.05,194.71 L467.49,194.22 L468.93,193.76 L470.37,193.31 L471.81,192.88 L473.25,192.45 L474.68,192.04 L476.12,191.65 L477.56,191.26 L479.00,190.89 L480.44,190.53 L481.88,190.17 L483.32,189.83 L484.76,189.50 L486.20,189.17 L487.63,188.86 L489.07,188.55 L490.51,188.25 L491.95,187.96 L493.39,187.68 L494.83,187.40 L496.27,187.13 L497.71,186.87 L499.15,186.61 L500.59,186.36 L502.02,186.11 L503.46,185.87 L504.90,185.64 L506.34,185.41 L507.78,185.19 L509.22,184.97 L510.66,184.76 L512.10,184.55 L513.54,184.35 L514.98,184.15 L516.41,183.95 L517.85,183.76 L519.29,183.57 L520.73,183.39 L522.17,183.21 L523.61,183.03 L525.05,182.86 L526.49,182.69 L527.93,182.52 L529.37,182.36 L530.81,182.20 L532.24,182.05 L533.68,181.89 L535.12,181.74 L536.56,181.59 L538.00,181.45 L539.44,181.30 L540.88,181.16 L542.32,181.03 L543.76,180.89 L545.19,180.76 L546.63,180.63 L548.07,180.50 L549.51,180.37 L550.95,180.25 L552.39,180.13 L553.83,180.01 L555.27,179.89 L556.71,179.77 L558.15,179.66 L559.59,179.55 L561.02,179.44 L562.46,179.33 L563.90,179.22 L565.34,179.12 L566.78,179.01 L568.22,178.91 L569.66,178.81 L571.10,178.71 L572.54,178.61 L573.98,178.52 L575.41,178.42 L576.85,178.33 L578.29,178.24 L579.73,178.15 L581.17,178.06 L582.61,177.97 L584.05,177.88 L585.49,177.80 L586.93,177.71 L588.37,177.63 L589.80,177.55 L591.24,177.47 L592.68,177.39 L594.12,177.31 L595.56,177.23 L597.00,177.15 L598.44,177.08 L599.88,177.00 L601.32,176.93 L602.75,176.86 L604.19,176.78 L605.63,176.71 L607.07,176.64 L608.51,176.57 L609.95,176.51 L611.39,176.44 L612.83,176.37 L614.27,176.31 L615.71,176.24 L617.14,176.18 L618.58,176.11 L620.02,176.05 L621.46,175.99 L622.90,175.93 L624.34,175.87 L625.78,175.81 L627.22,175.75 L628.66,175.69 L630.10,175.63 L631.53,175.58 L632.97,175.52 L634.41,175.46 L635.85,175.41 L637.29,175.35 L638.73,175.30 L640.17,175.25 L641.61,175.19 L643.05,175.14 L644.49,175.09 L645.92,175.04 L647.36,174.99 L648.80,174.94 L650.24,174.89 L651.68,174.84 L653.12,174.79" fill="none" stroke="#1A6FDF" stroke-width="1.5"/>
<path d="M422.88,224.29 L424.32,215.49 L425.76,207.85 L427.20,201.16 L428.64,195.25 L430.08,190.00 L431.51,185.30 L432.95,181.07 L434.39,177.24 L435.83,173.75 L437.27,170.57 L438.71,167.65 L440.15,164.97 L441.59,162.49 L443.03,160.19 L444.47,158.06 L445.90,156.07 L447.34,154.22 L448.78,152.48 L450.22,150.85 L451.66,149.33 L453.10,147.89 L454.54,146.53 L455.98,145.25 L457.42,144.04 L458.86,142.89 L460.29,141.80 L461.73,140.76 L463.17,139.78 L464.61,138.84 L466.05,137.95 L467.49,137.09 L468.93,136.28 L470.37,135.50 L471.81,134.75 L473.25,134.03 L474.68,133.34 L476.12,132.68 L477.56,132.05 L479.00,131.44 L480.44,130.85 L481.88,130.29 L483.32,129.74 L484.76,129.22 L486.20,128.71 L487.63,128.22 L489.07,127.75 L490.51,127.29 L491.95,126.85 L493.39,126.42 L494.83,126.01 L496.27,125.61 L497.71,125.22 L499.15,124.84 L500.59,124.48 L502.02,124.12 L503.46,123.78 L504.90,123.44 L506.34,123.12 L507.78,122.80 L509.22,122.49 L510.66,122.19 L512.10,121.90 L513.54,121.62 L514.98,121.34 L516.41,121.07 L517.85,120.81 L519.29,120.55 L520.73,120.30 L522.17,120.06 L523.61,119.82 L525.05,119.59 L526.49,119.36 L527.93,119.14 L529.37,118.92 L530.81,118.71 L532.24,118.51 L533.68,118.30 L535.12,118.11 L536.56,117.91 L538.00,117.72 L539.44,117.54 L540.88,117.36 L542.32,117.18 L543.76,117.01 L545.19,116.84 L546.63,116.67 L548.07,116.51 L549.51,116.34 L550.95,116.19 L552.39,116.03 L553.83,115.88 L555.27,115.73 L556.71,115.59 L558.15,115.45 L559.59,115.31 L561.02,115.17 L562.46,115.03 L563.90,114.90 L565.34,114.77 L566.78,114.64 L568.22,114.52 L569.66,114.39 L571.10,114.27 L572.54,114.15 L573.98,114.03 L575.41,113.92 L576.85,113.81 L578.29,113.69 L579.73,113.58 L581.17,113.48 L582.61,113.37 L584.05,113.27 L585.49,113.16 L586.93,113.06 L588.37,112.96 L589.80,112.86 L591.24,112.77 L592.68,112.67 L594.12,112.58 L595.56,112.49 L597.00,112.40 L598.44,112.31 L599.88,112.22 L601.32,112.13 L602.75,112.05 L604.19,111.96 L605.63,111.88 L607.07,111.80 L608.51,111.71 L609.95,111.64 L611.39,111.56 L612.83,111.48 L614.27,111.40 L615.71,111.33 L617.14,111.25 L618.58,111.18 L620.02,111.11 L621.46,111.03 L622.90,110.96 L624.34,110.89 L625.78,110.83 L627.22,110.76 L628.66,110.69 L630.10,110.62 L631.53,110.56 L632.97,110.50 L634.41,110.43 L635.85,110.37 L637.29,110.31 L638.73,110.25 L640.17,110.18 L641.61,110.12 L643.05,110.07 L644.49,110.01 L645.92,109.95 L647.36,109.89 L648.80,109.84 L650.24,109.78 L651.68,109.72 L653.12,109.67" fill="none" stroke="#37AD6B" stroke-width="1.5"/>
<path d="M422.88,224.29 L424.32,223.91 L425.76,223.56 L427.20,223.23 L428.64,222.91 L430.08,222.62 L431.51,222.34 L432.95,222.08 L434.39,221.84 L435.83,221.61 L437.27,221.38 L438.71,221.18 L440.15,220.98 L441.59,220.79 L443.03,220.61 L444.47,220.43 L445.90,220.27 L447.34,220.11 L448.78,219.96 L450.22,219.82 L451.66,219.68 L453.10,219.55 L454.54,219.42 L455.98,219.30 L457.42,219.18 L458.86,219.07 L460.29,218.96 L461.73,218.85 L463.17,218.75 L464.61,218.65 L466.05,218.56 L467.49,218.47 L468.93,218.38 L470.37,218.30 L471.81,218.21 L473.25,218.13 L474.68,218.06 L476.12,217.98 L477.56,217.91 L479.00,217.84 L480.44,217.77 L481.88,217.70 L483.32,217.64 L484.76,217.57 L486.20,217.51 L487.63,217.45 L489.07,217.40 L490.51,217.34 L491.95,217.28 L493.39,217.23 L494.83,217.18 L496.27,217.13 L497.71,217.08 L499.15,217.03 L500.59,216.98 L502.02,216.94 L503.46,216.89 L504.90,216.85 L506.34,216.81 L507.78,216.76 L509.22,216.72 L510.66,216.68 L512.10,216.64 L513.54,216.61 L514.98,216.57 L516.41,216.53 L517.85,216.50 L519.29,216.46 L520.73,216.43 L522.17,216.39 L523.61,216.36 L525.05,216.33 L526.49,216.30 L527.93,216.26 L529.37,216.23 L530.81,216.20 L532.24,216.17 L533.68,216.15 L535.12,216.12 L536.56,216.09 L538.00,216.06 L539.44,216.04 L540.88,216.01 L542.32,215.98 L543.76,215.96 L545.19,215.93 L546.63,215.91 L548.07,215.89 L549.51,215.86 L550.95,215.84 L552.39,215.82 L553.83,215.79 L555.27,215.77 L556.71,215.75 L558.15,215.73 L559.59,215.71 L561.02,215.69 L562.46,215.67 L563.90,215.65 L565.34,215.63 L566.78,215.61 L568.22,215.59 L569.66,215.57 L571.10,215.55 L572.54,215.54 L573.98,215.52 L575.41,215.50 L576.85,215.48 L578.29,215.47 L579.73,215.45 L581.17,215.43 L582.61,215.42 L584.05,215.40 L585.49,215.38 L586.93,215.37 L588.37,215.35 L589.80,215.34 L591.24,215.32 L592.68,215.31 L594.12,215.29 L595.56,215.28 L597.00,215.26 L598.44,215.25 L599.88,215.24 L601.32,215.22 L602.75,215.21 L604.19,215.20 L605.63,215.18 L607.07,215.17 L608.51,215.16 L609.95,215.14 L611.39,215.13 L612.83,215.12 L614.27,215.11 L615.71,215.09 L617.14,215.08 L618.58,215.07 L620.02,215.06 L621.46,215.05 L622.90,215.04 L624.34,215.03 L625.78,215.01 L627.22,215.00 L628.66,214.99 L630.10,214.98 L631.53,214.97 L632.97,214.96 L634.41,214.95 L635.85,214.94 L637.29,214.93 L638.73,214.92 L640.17,214.91 L641.61,214.90 L643.05,214.89 L644.49,214.88 L645.92,214.87 L647.36,214.86 L648.80,214.85 L650.24,214.84 L651.68,214.84 L653.12,214.83" fill="none" stroke="#B177DE" stroke-width="1.5"/>
<path d="M422.88,224.29 L424.32,221.52 L425.76,219.25 L427.20,217.34 L428.64,215.73 L430.08,214.35 L431.51,213.15 L432.95,212.10 L434.39,211.17 L435.83,210.34 L437.27,209.60 L438.71,208.93 L440.15,208.33 L441.59,207.78 L443.03,207.28 L444.47,206.81 L445.90,206.39 L447.34,206.00 L448.78,205.64 L450.22,205.30 L451.66,204.99 L453.10,204.69 L454.54,204.42 L455.98,204.16 L457.42,203.92 L458.86,203.69 L460.29,203.48 L461.73,203.28 L463.17,203.08 L464.61,202.90 L466.05,202.73 L467.49,202.57 L468.93,202.41 L470.37,202.26 L471.81,202.12 L473.25,201.99 L474.68,201.86 L476.12,201.73 L477.56,201.61 L479.00,201.50 L480.44,201.39 L481.88,201.29 L483.32,201.19 L484.76,201.09 L486.20,201.00 L487.63,200.91 L489.07,200.82 L490.51,200.74 L491.95,200.66 L493.39,200.58 L494.83,200.51 L496.27,200.43 L497.71,200.36 L499.15,200.30 L500.59,200.23 L502.02,200.17 L503.46,200.11 L504.90,200.05 L506.34,199.99 L507.78,199.93 L509.22,199.88 L510.66,199.82 L512.10,199.77 L513.54,199.72 L514.98,199.67 L516.41,199.63 L517.85,199.58 L519.29,199.54 L520.73,199.49 L522.17,199.45 L523.61,199.41 L525.05,199.37 L526.49,199.33 L527.93,199.29 L529.37,199.25 L530.81,199.21 L532.24,199.18 L533.68,199.14 L535.12,199.11 L536.56,199.07 L538.00,199.04 L539.44,199.01 L540.88,198.98 L542.32,198.95 L543.76,198.92 L545.19,198.89 L546.63,198.86 L548.07,198.83 L549.51,198.80 L550.95,198.78 L552.39,198.75 L553.83,198.72 L555.27,198.70 L556.71,198.67 L558.15,198.65 L559.59,198.63 L561.02,198.60 L562.46,198.58 L563.90,198.56 L565.34,198.53 L566.78,198.51 L568.22,198.49 L569.66,198.47 L571.10,198.45 L572.54,198.43 L573.98,198.41 L575.41,198.39 L576.85,198.37 L578.29,198.35 L579.73,198.33 L581.17,198.32 L582.61,198.30 L584.05,198.28 L585.49,198.26 L586.93,198.24 L588.37,198.23 L589.80,198.21 L591.24,198.20 L592.68,198.18 L594.12,198.16 L595.56,198.15 L597.00,198.13 L598.44,198.12 L599.88,198.10 L601.32,198.09 L602.75,198.07 L604.19,198.06 L605.63,198.05 L607.07,198.03 L608.51,198.02 L609.95,198.00 L611.39,197.99 L612.83,197.98 L614.27,197.97 L615.71,197.95 L617.14,197.94 L618.58,197.93 L620.02,197.92 L621.46,197.90 L622.90,197.89 L624.34,197.88 L625.78,197.87 L627.22,197.86 L628.66,197.85 L630.10,197.84 L631.53,197.82 L632.97,197.81 L634.41,197.80 L635.85,197.79 L637.29,197.78 L638.73,197.77 L640.17,197.76 L641.61,197.75 L643.05,197.74 L644.49,197.73 L645.92,197.72 L647.36,197.71 L648.80,197.70 L650.24,197.69 L651.68,197.69 L653.12,197.68" fill="none" stroke="#CC9900" stroke-width="1.5"/>
<rect x="394.1" y="8.6" width="287.80" height="231.10" fill="none" stroke="#000" stroke-width="1.3"/>
<line x1="391.90" y1="239.70" x2="394.1" y2="239.70" stroke="#000" stroke-width="1.3"/>
<line x1="389.80" y1="224.29" x2="394.1" y2="224.29" stroke="#000" stroke-width="1.3"/>
<text x="386.50" y="229.19" text-anchor="end" font-family="Liberation Serif" font-weight="bold" font-size="15">0</text>
<line x1="391.90" y1="208.89" x2="394.1" y2="208.89" stroke="#000" stroke-width="1.3"/>
<line x1="389.80" y1="193.48" x2="394.1" y2="193.48" stroke="#000" stroke-width="1.3"/>
<text x="386.50" y="198.38" text-anchor="end" font-family="Liberation Serif" font-weight="bold" font-size="15">5</text>
<line x1="391.90" y1="178.07" x2="394.1" y2="178.07" stroke="#000" stroke-width="1.3"/>
<line x1="389.80" y1="162.67" x2="394.1" y2="162.67" stroke="#000" stroke-width="1.3"/>
<text x="386.50" y="167.57" text-anchor="end" font-family="Liberation Serif" font-weight="bold" font-size="15">10</text>
<line x1="391.90" y1="147.26" x2="394.1" y2="147.26" stroke="#000" stroke-width="1.3"/>
<line x1="389.80" y1="131.85" x2="394.1" y2="131.85" stroke="#000" stroke-width="1.3"/>
<text x="386.50" y="136.75" text-anchor="end" font-family="Liberation Serif" font-weight="bold" font-size="15">15</text>
<line x1="391.90" y1="116.45" x2="394.1" y2="116.45" stroke="#000" stroke-width="1.3"/>
<line x1="389.80" y1="101.04" x2="394.1" y2="101.04" stroke="#000" stroke-width="1.3"/>
<text x="386.50" y="105.94" text-anchor="end" font-family="Liberation Serif" font-weight="bold" font-size="15">20</text>
<line x1="391.90" y1="85.63" x2="394.1" y2="85.63" stroke="#000" stroke-width="1.3"/>
<line x1="389.80" y1="70.23" x2="394.1" y2="70.23" stroke="#000" stroke-width="1.3"/>
<text x="386.50" y="75.13" text-anchor="end" font-family="Liberation Serif" font-weight="bold" font-size="15">25</text>
<line x1="391.90" y1="54.82" x2="394.1" y2="54.82" stroke="#000" stroke-width="1.3"/>
<line x1="389.80" y1="39.41" x2="394.1" y2="39.41" stroke="#000" stroke-width="1.3"/>
<text x="386.50" y="44.31" text-anchor="end" font-family="Liberation Serif" font-weight="bold" font-size="15">30</text>
<line x1="391.90" y1="24.01" x2="394.1" y2="24.01" stroke="#000" stroke-width="1.3"/>
<line x1="389.80" y1="8.60" x2="394.1" y2="8.60" stroke="#000" stroke-width="1.3"/>
<text x="386.50" y="13.50" text-anchor="end" font-family="Liberation Serif" font-weight="bold" font-size="15">35</text>
<line x1="394.10" y1="239.7" x2="394.10" y2="241.90" stroke="#000" stroke-width="1.3"/>
<line x1="422.88" y1="239.7" x2="422.88" y2="244.00" stroke="#000" stroke-width="1.3"/>
<text x="422.88" y="259.90" text-anchor="middle" font-family="Liberation Serif" font-weight="bold" font-size="15">0</text>
<line x1="451.66" y1="239.7" x2="451.66" y2="241.90" stroke="#000" stroke-width="1.3"/>
<line x1="480.44" y1="239.7" x2="480.44" y2="244.00" stroke="#000" stroke-width="1.3"/>
<text x="480.44" y="259.90" text-anchor="middle" font-family="Liberation Serif" font-weight="bold" font-size="15">2</text>
<line x1="509.22" y1="239.7" x2="509.22" y2="241.90" stroke="#000" stroke-width="1.3"/>
<line x1="538.00" y1="239.7" x2="538.00" y2="244.00" stroke="#000" stroke-width="1.3"/>
<text x="538.00" y="259.90" text-anchor="middle" font-family="Liberation Serif" font-weight="bold" font-size="15">4</text>
<line x1="566.78" y1="239.7" x2="566.78" y2="241.90" stroke="#000" stroke-width="1.3"/>
<line x1="595.56" y1="239.7" x2="595.56" y2="244.00" stroke="#000" stroke-width="1.3"/>
<text x="595.56" y="259.90" text-anchor="middle" font-family="Liberation Serif" font-weight="bold" font-size="15">6</text>
<line x1="624.34" y1="239.7" x2="624.34" y2="241.90" stroke="#000" stroke-width="1.3"/>
<line x1="653.12" y1="239.7" x2="653.12" y2="244.00" stroke="#000" stroke-width="1.3"/>
<text x="653.12" y="259.90" text-anchor="middle" font-family="Liberation Serif" font-weight="bold" font-size="15">8</text>
<line x1="681.90" y1="239.7" x2="681.90" y2="241.90" stroke="#000" stroke-width="1.3"/>
<text x="535.3" y="272.2" text-anchor="middle" font-family="Liberation Serif" font-weight="bold" font-size="15">Time(h)</text>
<text transform="translate(364.90,153.20) rotate(-90) scale(0.88,1)" font-family="Liberation Serif" font-weight="bold" font-size="16.4">Q</text>
<text transform="translate(368.30,142.00) rotate(-90)" font-family="Liberation Serif" font-weight="bold" font-size="9.5">e</text>
<text transform="translate(364.70,137.10) rotate(-90)" font-family="Liberation Serif" font-weight="bold" font-size="15">(mg/g)</text>
<rect x="401.10" y="15.10" width="110.1" height="90.4" fill="#000"/>
<rect x="397.9" y="11.9" width="110.1" height="90.4" fill="#fff" stroke="#111" stroke-width="0.9"/>
<rect x="408.80" y="16.50" width="8.2" height="8.2" fill="#000000"/>
<text x="430.10" y="24.80" font-family="Liberation Serif" font-weight="bold" font-size="12">BC-Pb(II)</text>
<circle cx="412.90" cy="35.72" r="4.85" fill="#FF0000"/>
<text x="430.10" y="39.92" font-family="Liberation Serif" font-weight="bold" font-size="12">Fe@BC-Pb(II)</text>
<polygon points="407.30,53.91 418.50,53.91 412.90,44.71" fill="#0000FF"/>
<text x="430.10" y="55.04" font-family="Liberation Serif" font-weight="bold" font-size="12">BC-Cu(II)</text>
<polygon points="407.30,62.86 418.50,62.86 412.90,72.16" fill="#008000"/>
<text x="430.10" y="70.16" font-family="Liberation Serif" font-weight="bold" font-size="12">Fe@BC-Cu(II)</text>
<polygon points="412.90,75.28 418.60,81.08 412.90,86.88 407.20,81.08" fill="#DD33FF"/>
<text x="430.10" y="85.28" font-family="Liberation Serif" font-weight="bold" font-size="12">BC-Ni(II)</text>
<polygon points="406.90,96.20 416.30,90.90 416.30,101.50" fill="#FF8000"/>
<text x="430.10" y="100.40" font-family="Liberation Serif" font-weight="bold" font-size="12">Fe@BC-Ni(II)</text>
<text x="529" y="25.5" font-family="Liberation Serif" font-size="14" textLength="106.6" lengthAdjust="spacingAndGlyphs">Quasi-second model</text>
<text x="661" y="26.5" font-family="Liberation Serif" font-weight="bold" font-size="14">(b)</text>
</svg>
</body></html>
